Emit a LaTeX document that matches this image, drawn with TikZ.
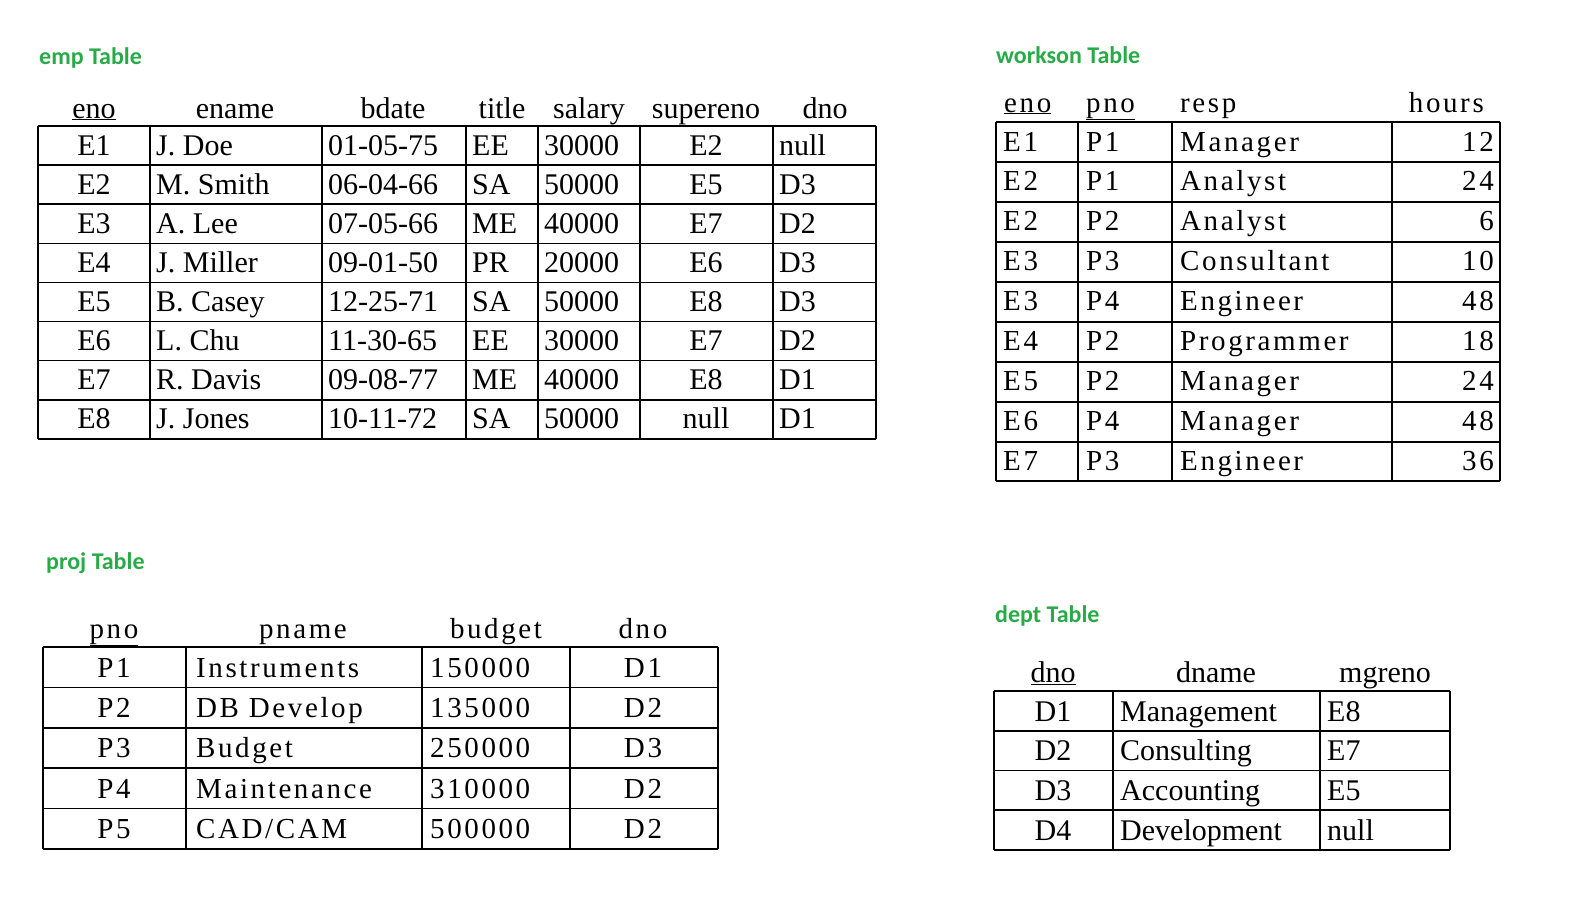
\documentclass[tikz,border=0pt]{standalone}
\usepackage{fontspec}
\setmainfont{Liberation Serif}
\newfontfamily\ttl{Carlito}[BoldFont={Carlito Bold}]
\newfontfamily\spaced{Liberation Serif}[LetterSpace=9]
\definecolor{tgreen}{RGB}{40,170,70}
\begin{document}
\begin{tikzpicture}[x=1pt,y=-1pt,
  ttlstyle/.style={anchor=west,font=\ttl\bfseries\fontsize{24}{28}\selectfont,text=tgreen,inner sep=0},
  cell/.style={inner sep=0,font=\fontsize{30}{34}\selectfont},
  scell/.style={inner sep=0,font=\spaced\fontsize{29}{33}\selectfont},
  grid/.style={line width=1.6pt}]
\useasboundingbox (0,0) rectangle (1579,903);
% ---------- emp
\node[ttlstyle] (t1) at (39,58) {emp Table};
\foreach \x/\h in {94/\underline{eno},235/ename,393/bdate,502/title,589/salary,706/supereno,825/dno}
  \node[cell,anchor=base] at (\x,118) {\h};
\foreach \y in {126,165.1,204.2,243.3,282.4,321.5,360.6,399.7,439} \draw[grid] (38,\y) -- (876,\y);
\foreach \x in {38,150,322,466,538,640,773,876} \draw[grid] (\x,126) -- (\x,439);
\foreach \e/\n/\b/\t/\s/\p/\d [count=\i] in {E1/J. Doe/01-05-75/EE/30000/E2/null,E2/M. Smith/06-04-66/SA/50000/E5/D3,E3/A. Lee/07-05-66/ME/40000/E7/D2,E4/J. Miller/09-01-50/PR/20000/E6/D3,E5/B. Casey/12-25-71/SA/50000/E8/D3,E6/L. Chu/11-30-65/EE/30000/E7/D2,E7/R. Davis/09-08-77/ME/40000/E8/D1,E8/J. Jones/10-11-72/SA/50000/null/D1}{
  \pgfmathsetmacro\yy{126+39.1*(\i-1)+29}
  \node[cell,anchor=base] at (94,\yy) {\e};
  \node[cell,anchor=base west] at (156,\yy) {\n};
  \node[cell,anchor=base west] at (328,\yy) {\b};
  \node[cell,anchor=base west] at (472,\yy) {\t};
  \node[cell,anchor=base west] at (544,\yy) {\s};
  \node[cell,anchor=base] at (706,\yy) {\p};
  \node[cell,anchor=base west] at (779,\yy) {\d};
}
% ---------- workson
\node[ttlstyle] (t2) at (996,55) {workson Table};
\foreach \x/\h/\a in {1004/\underline{eno}/west,1086/\underline{pno}/west,1180/resp/west,1484/hours/east}
  \node[scell,anchor=base \a] at (\x,112) {\h};
\foreach \y in {122,162,202,242,282,322,362,402,442,481} \draw[grid] (996,\y) -- (1500,\y);
\foreach \x in {996,1078,1172,1392,1500} \draw[grid] (\x,122) -- (\x,481);
\foreach \e/\p/\r/\h [count=\i] in {E1/P1/Manager/12,E2/P1/Analyst/24,E2/P2/Analyst/6,E3/P3/Consultant/10,E3/P4/Engineer/48,E4/P2/Programmer/18,E5/P2/Manager/24,E6/P4/Manager/48,E7/P3/Engineer/36}{
  \pgfmathsetmacro\yy{122+39.9*(\i-1)+29}
  \node[scell,anchor=base west] at (1003,\yy) {\e};
  \node[scell,anchor=base west] at (1086,\yy) {\p};
  \node[scell,anchor=base west] at (1180,\yy) {\r};
  \node[scell,anchor=base east] at (1494,\yy) {\h};
}
% ---------- proj
\node[ttlstyle] (t3) at (46,563) {proj Table};
\foreach \x/\h in {114/\underline{pno},303/pname,496/budget,643/dno}
  \node[scell,anchor=base] at (\x,638) {\h};
\foreach \y in {647,687.4,727.8,768.2,808.6,849} \draw[grid] (43,\y) -- (718,\y);
\foreach \x in {43,186,422,570,718} \draw[grid] (\x,647) -- (\x,849);
\foreach \p/\n/\b/\d [count=\i] in {P1/Instruments/150000/D1,P2/DB Develop/135000/D2,P3/Budget/250000/D3,P4/Maintenance/310000/D2,P5/{CAD/CAM}/500000/D2}{
  \pgfmathsetmacro\yy{647+40.4*(\i-1)+30}
  \node[scell,anchor=base] at (114,\yy) {\p};
  \node[scell,anchor=base west] at (196,\yy) {\n};
  \node[scell,anchor=base west] at (430,\yy) {\b};
  \node[scell,anchor=base] at (643,\yy) {\d};
}
% ---------- dept
\node[ttlstyle] (t4) at (995,616) {dept Table};
\foreach \x/\h in {1053/\underline{dno},1216/dname,1385/mgreno}
  \node[cell,anchor=base] at (\x,682) {\h};
\foreach \y in {691,730.75,770.5,810.25,850} \draw[grid] (994,\y) -- (1450,\y);
\foreach \x in {994,1113,1320,1450} \draw[grid] (\x,691) -- (\x,850);
\foreach \d/\n/\m [count=\i] in {D1/Management/E8,D2/Consulting/E7,D3/Accounting/E5,D4/Development/null}{
  \pgfmathsetmacro\yy{691+39.75*(\i-1)+30}
  \node[cell,anchor=base] at (1053,\yy) {\d};
  \node[cell,anchor=base west] at (1120,\yy) {\n};
  \node[cell,anchor=base west] at (1327,\yy) {\m};
}
\end{tikzpicture}
\end{document}
